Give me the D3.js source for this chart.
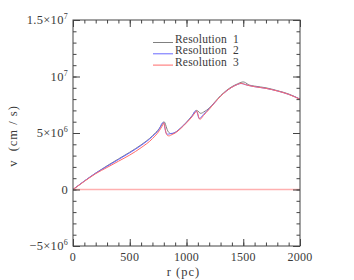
<!DOCTYPE html>
<html>
<head>
<meta charset="utf-8">
<script src="https://cdn.jsdelivr.net/npm/d3@7"></script>
<style>
body { margin: 0; background: #fff; }
text { font-family: "Liberation Serif", "DejaVu Serif", serif; fill: #3a3a3a; }
</style>
</head>
<body>
<div id="myVis"></div>
<script>
var width = 354;
var height = 280;

// radius (pc)
var radius = [0, 100, 200, 300, 400, 500, 600, 700, 760, 790, 800, 810, 820, 830, 840, 850, 860, 880, 900, 950,
              1000, 1050, 1080, 1090, 1100, 1110, 1120, 1130, 1150, 1200, 1250, 1300, 1350, 1400, 1450, 1480,
              1500, 1520, 1550, 1600, 1700, 1800, 1900, 2000];

// velocity (units of 1e6 cm/s)
var res1 = [0, 0.75, 1.45, 2.1, 2.7, 3.3, 3.95, 4.75, 5.4, 5.85, 6.0, 5.9, 5.6, 5.3, 5.1, 5.0, 4.95, 4.95, 5.05, 5.45,
            5.95, 6.55, 6.95, 7.0, 6.95, 6.85, 6.75, 6.75, 6.85, 7.2, 7.75, 8.3, 8.75, 9.1, 9.35, 9.48,
            9.52, 9.45, 9.25, 9.15, 9.0, 8.75, 8.45, 8.0];
var res2 = [0, 0.75, 1.45, 2.05, 2.65, 3.25, 3.9, 4.7, 5.35, 5.9, 5.9, 5.4, 5.0, 4.9, 4.9, 4.92, 4.95, 4.98, 5.05, 5.45,
            5.95, 6.5, 6.95, 6.9, 6.6, 6.3, 6.3, 6.4, 6.65, 7.15, 7.7, 8.25, 8.7, 9.05, 9.3, 9.38,
            9.35, 9.28, 9.2, 9.1, 8.95, 8.72, 8.42, 8.0];
var res3 = [0, 0.72, 1.4, 1.95, 2.5, 3.05, 3.7, 4.5, 5.2, 5.7, 5.9, 5.5, 5.0, 4.8, 4.75, 4.75, 4.8, 4.9, 5.0, 5.4,
            5.9, 6.45, 6.85, 6.95, 6.7, 6.3, 6.2, 6.3, 6.55, 7.1, 7.7, 8.25, 8.7, 9.05, 9.3, 9.4,
            9.35, 9.28, 9.2, 9.1, 8.95, 8.72, 8.42, 7.98];
var zeroR = [0, 2000];
var zeroV = [0, 0];

var seriesNames = ["Resolution 1", "Resolution 2", "Resolution 3"];
var seriesColors = ["#808080", "#6a6aff", "#ff6a6a"];

var xTicks = [0, 500, 1000, 1500, 2000];
var yTicks = [-5, 0, 5, 10, 15];
var yTickLabels = [["\u22125\u00d710", "6"], ["0", ""], ["5\u00d710", "6"], ["10", "7"], ["1.5\u00d710", "7"]];

var plotLeft = 73, plotRight = 300, plotTop = 20, plotBottom = 246;

var x = d3.scaleLinear().domain([0, 2000]).range([plotLeft, plotRight]);
var y = d3.scaleLinear().domain([-5, 15]).range([plotBottom, plotTop]);

var svg = d3.select("#myVis").append("svg")
    .attr("width", width)
    .attr("height", height);

// zero line
svg.append("path")
    .datum(d3.zip(zeroR, zeroV))
    .attr("d", d3.line().x(function(d) { return x(d[0]); }).y(function(d) { return y(d[1]); }))
    .attr("fill", "none")
    .attr("stroke", "#ffb0b0")
    .attr("stroke-width", 1.3);

var line = d3.line()
    .x(function(d) { return x(d[0]); })
    .y(function(d) { return y(d[1]); })
    .curve(d3.curveMonotoneX);

[res1, res2, res3].forEach(function(vals, i) {
    svg.append("path")
        .datum(d3.zip(radius, vals))
        .attr("d", line)
        .attr("fill", "none")
        .attr("stroke", seriesColors[i])
        .attr("stroke-width", 1);
});

// frame with inward ticks
var frameColor = "#444";
function tickAxis(axis, transform, major, minor) {
    var g = svg.append("g").attr("transform", transform);
    g.call(axis.tickValues(minor).tickSize(-3.5).tickFormat(""));
    g.selectAll("path").remove();
    var g2 = svg.append("g").attr("transform", transform);
    g2.call(axis.tickValues(major).tickSize(-7).tickFormat(""));
    g2.selectAll("path").remove();
    svg.selectAll(".tick line").attr("stroke", frameColor);
}
var xMinor = d3.range(0, 2001, 100);
var yMinor = d3.range(-5, 15.01, 1);
tickAxis(d3.axisBottom(x), "translate(0," + plotBottom + ")", xTicks, xMinor);
tickAxis(d3.axisTop(x), "translate(0," + plotTop + ")", xTicks, xMinor);
tickAxis(d3.axisLeft(y), "translate(" + plotLeft + ",0)", yTicks, yMinor);
tickAxis(d3.axisRight(y), "translate(" + plotRight + ",0)", yTicks, yMinor);

svg.append("rect")
    .attr("x", plotLeft).attr("y", plotTop)
    .attr("width", plotRight - plotLeft).attr("height", plotBottom - plotTop)
    .attr("fill", "none")
    .attr("stroke", frameColor)
    .attr("stroke-width", 1);

// tick labels
svg.selectAll(".xlab").data(xTicks).enter().append("text")
    .attr("x", function(d) { return x(d); })
    .attr("y", 261)
    .attr("text-anchor", "middle")
    .attr("font-size", 12)
    .attr("letter-spacing", 0.3)
    .text(function(d) { return d; });

yTicks.forEach(function(t, i) {
    var txt = svg.append("text")
        .attr("x", 68)
        .attr("y", y(t) + 4)
        .attr("text-anchor", "end")
        .attr("font-size", 12.5)
        .attr("letter-spacing", 0.3);
    txt.append("tspan").text(yTickLabels[i][0]);
    if (yTickLabels[i][1]) {
        txt.append("tspan").attr("dy", -5).attr("font-size", 8).text(yTickLabels[i][1]);
    }
});

svg.append("text")
    .attr("x", x(1000) - 3)
    .attr("y", 276)
    .attr("text-anchor", "middle")
    .attr("font-size", 12.5)
    .attr("letter-spacing", 1)
    .text("r (pc)");

svg.append("text")
    .attr("transform", "translate(17," + 136 + ") rotate(-90)")
    .attr("text-anchor", "middle")
    .attr("font-size", 12.5)
    .attr("letter-spacing", 1)
    .text("v (cm\u00a0/\u00a0s)".replace(/ /g, "\u00a0\u00a0"));

// legend
seriesNames.forEach(function(name, i) {
    var ly = 42.5 + i * 11.3;
    svg.append("line")
        .attr("x1", 153).attr("x2", 173)
        .attr("y1", ly).attr("y2", ly)
        .attr("stroke", seriesColors[i])
        .attr("stroke-width", 1);
    svg.append("text")
        .attr("x", 175)
        .attr("y", ly + 0.5)
        .attr("font-size", 11.5)
        .attr("letter-spacing", 0.2)
        .text(name.replace(" ", "\u00a0\u00a0"));
});
</script>
</body>
</html>
